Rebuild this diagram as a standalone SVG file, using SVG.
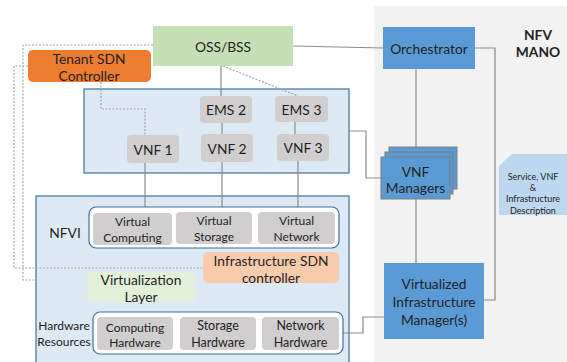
<svg xmlns="http://www.w3.org/2000/svg" width="567" height="362" viewBox="0 0 567 362">
<style>
text{font-family:Lato,"Open Sans","Liberation Sans",sans-serif;fill:#1f1f1f;text-anchor:middle;dominant-baseline:central}
.gray{fill:#d0cece}
.blue{fill:#5b9bd5}
.panel{fill:#dde9f5;stroke:#41719c;stroke-width:1.2}
.cont{fill:#ffffff;stroke:#41719c;stroke-width:1.2}
.ln{fill:none;stroke:#8c8c8c;stroke-width:1.2}
.dot{fill:none;stroke:#a6a6a6;stroke-width:1.2;stroke-dasharray:2 1.5}
.f13{font-size:13.8px}
.f11{font-size:12px}
.f9{font-size:9px}
</style>
<rect x="374" y="6" width="193" height="356" fill="#f2f2f2"/>
<g id="mano-label"><text x="538" y="34" class="f13" font-weight="bold">NFV</text><text x="538" y="51" class="f13" font-weight="bold">MANO</text></g>
<g id="upper-panel"><rect class="panel" x="84" y="89" width="265" height="84"/></g>
<g id="nfvi-panel"><rect class="panel" x="36" y="196" width="313" height="170"/></g>
<g id="connectors">
<path class="ln" d="M293,46 L383,48"/>
<path class="ln" d="M475,48 H495 V300 H484"/>
<path class="ln" d="M416,69 V148"/>
<path class="ln" d="M416,199 V263"/>
<path class="ln" d="M349,131 H366 V178 H381"/>
<path class="ln" d="M343,333 H363 V317 H384"/>
<path class="ln" d="M221,66 V96"/>
<path class="ln" d="M222,123 V134"/>
<path class="ln" d="M295,122 V134"/>
<path class="ln" d="M145,163 V207"/>
<path class="ln" d="M222,162 V207"/>
<path class="ln" d="M298,161 V207"/>
<path class="dot" d="M223,66 L298,96"/>
<path class="dot" d="M101,82 V109 H145 V135"/>
<path class="dot" d="M153,45 H23 V280 H36"/>
<path class="dot" d="M28,66 H14 V268 H203"/>
</g>
<g id="oss-bss"><rect x="153" y="26" width="140" height="40" fill="#c5e0b4"/><text x="223" y="46" class="f13">OSS/BSS</text></g>
<g id="tenant-sdn"><rect x="28" y="50" width="123" height="32" rx="5" fill="#ed7d31"/><text x="89" y="58.5" class="f13">Tenant SDN</text><text x="89" y="75" class="f13">Controller</text></g>
<g id="orchestrator"><rect class="blue" x="383" y="27" width="92" height="42"/><text x="429" y="48" class="f13">Orchestrator</text></g>
<g id="ems2"><rect class="gray" x="200" y="96" width="52" height="27" rx="4"/><text x="226" y="109.5" class="f13">EMS 2</text></g>
<g id="ems3"><rect class="gray" x="275" y="96" width="53" height="26" rx="4"/><text x="301.5" y="109" class="f13">EMS 3</text></g>
<g id="vnf1"><rect class="gray" x="127" y="135" width="52" height="28" rx="4"/><text x="153" y="149" class="f13">VNF 1</text></g>
<g id="vnf2"><rect class="gray" x="201" y="134" width="52" height="28" rx="4"/><text x="227" y="148" class="f13">VNF 2</text></g>
<g id="vnf3"><rect class="gray" x="277" y="134" width="52" height="27" rx="4"/><text x="303" y="147.5" class="f13">VNF 3</text></g>
<g id="vnf-managers">
<rect class="blue" x="389" y="147" width="68" height="42" stroke="#7f7f7f"/>
<rect class="blue" x="385" y="152" width="68" height="42" stroke="#7f7f7f"/>
<rect class="blue" x="381" y="157" width="69" height="42" stroke="#7f7f7f"/>
<text x="415.5" y="171" class="f13">VNF</text><text x="415.5" y="187" class="f13">Managers</text>
</g>
<g id="description"><polygon points="512,154 567,154 567,215 499,215 499,166" fill="#bdd7ee"/>
<text x="533" y="176" class="f9">Service, VNF</text><text x="533" y="187" class="f9">&amp;</text><text x="533" y="198" class="f9">Infrastructure</text><text x="533" y="210.5" class="f9">Description</text></g>
<g id="vim"><rect class="blue" x="384" y="263" width="100" height="76"/><text x="434" y="283" class="f13">Virtualized</text><text x="434" y="301" class="f13">Infrastructure</text><text x="434" y="319" class="f13">Manager(s)</text></g>
<g id="nfvi-label"><text x="65" y="232" class="f13">NFVI</text></g>
<g id="virtual-resources"><rect class="cont" x="89" y="207" width="250" height="41" rx="7"/></g>
<g id="virtual-computing"><rect class="gray" x="93" y="213" width="79" height="32" rx="4"/><text x="132.5" y="221.5" class="f11">Virtual</text><text x="132.5" y="237" class="f11">Computing</text></g>
<g id="virtual-storage"><rect class="gray" x="176" y="212" width="76" height="32" rx="4"/><text x="214" y="220" class="f11">Virtual</text><text x="214" y="236" class="f11">Storage</text></g>
<g id="virtual-network"><rect class="gray" x="258" y="212" width="77" height="32" rx="4"/><text x="296.5" y="220" class="f11">Virtual</text><text x="296.5" y="236" class="f11">Network</text></g>
<g id="infra-sdn"><rect x="203" y="252" width="136" height="31" rx="5" fill="#f8cbad"/><text x="271" y="260" class="f13">Infrastructure SDN</text><text x="271" y="277" class="f13">controller</text></g>
<g id="virt-layer"><rect x="87" y="272" width="108" height="30" rx="4" fill="#e2f0d9"/><text x="141" y="279" class="f13">Virtualization</text><text x="141" y="296" class="f13">Layer</text></g>
<g id="hw-label"><text x="64" y="325" class="f11">Hardware</text><text x="64" y="341" class="f11">Resources</text></g>
<g id="hardware-resources"><rect class="cont" x="93" y="312" width="250" height="42" rx="7"/></g>
<g id="computing-hw"><rect class="gray" x="97" y="317" width="76" height="33" rx="4"/><text x="135" y="327" class="f11">Computing</text><text x="135" y="342" class="f11">Hardware</text></g>
<g id="storage-hw"><rect class="gray" x="180" y="317" width="76" height="33" rx="4"/><text x="218" y="325" font-size="12.5">Storage</text><text x="218" y="342" font-size="12.5">Hardware</text></g>
<g id="network-hw"><rect class="gray" x="262" y="317" width="77" height="33" rx="4"/><text x="300.5" y="325" font-size="12.5">Network</text><text x="300.5" y="342" font-size="12.5">Hardware</text></g>
</svg>
